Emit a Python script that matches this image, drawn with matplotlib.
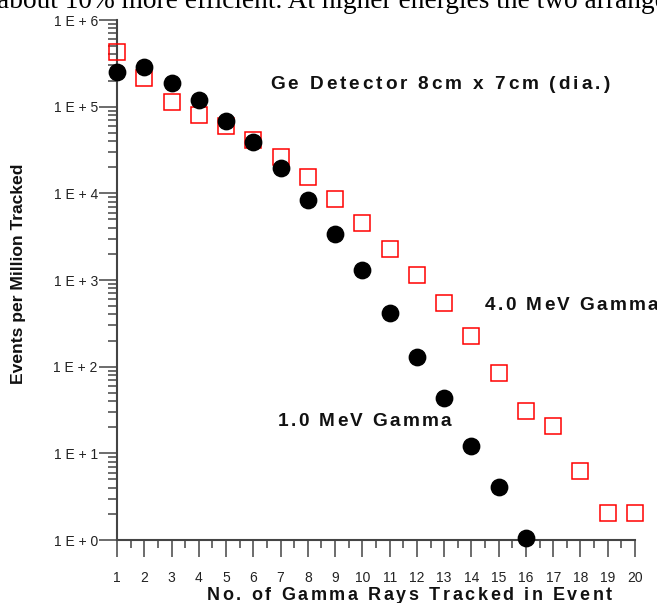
import numpy as np
import matplotlib
matplotlib.use('Agg')
import matplotlib.pyplot as plt
from matplotlib import font_manager
from matplotlib.ft2font import FT2Font
from matplotlib.ticker import FixedLocator, MultipleLocator, LogLocator, FuncFormatter, NullFormatter

# ---------------------------------------------------------------------------
# Data
# ---------------------------------------------------------------------------
n_tracked = np.arange(1, 21)
ev_1mev = [2.53e5, 2.89e5, 1.86e5, 1.19e5, 6.9e4, 3.88e4, 1.95e4, 8.4e3,
           3.4e3, 1.3e3, 420, 128, 44, 12.2, 4.1, 1.05]
ev_4mev = [4.33e5, 2.12e5, 1.13e5, 8.07e4, 5.98e4, 4.16e4, 2.62e4, 1.56e4,
           8.6e3, 4.6e3, 2.28e3, 1.14e3, 550, 226, 84, 30.5, 20.8, 6.25,
           2.05, 2.05]
x_ticks = list(range(1, 21))
y_decades = [0, 1, 2, 3, 4, 5, 6]

W, H, DPI = 657, 603, 100
SANS = 'Liberation Sans'
AX_COL = '#444444'


def spaced_text(fig, x_px, y_px, s, size, spacing, weight='bold', color='#111111'):
    """Draw s letter by letter from x_px (left) on baseline y_px (pixels from top)."""
    path = font_manager.findfont(font_manager.FontProperties(family=SANS, weight=weight))
    font = FT2Font(path)
    font.set_size(size, DPI)
    x = x_px
    for c in s:
        if c != ' ':
            fig.text(x / W, 1 - y_px / H, c, fontsize=size, fontweight=weight,
                     family=SANS, color=color, ha='left', va='baseline')
        x += font.load_char(ord(c)).linearHoriAdvance / 65536 + spacing


fig = plt.figure(figsize=(W / DPI, H / DPI), dpi=DPI)
ax = fig.add_axes([117 / W, 1 - 540 / H, (635 - 117) / W, (540 - 20) / H])

ax.plot(n_tracked[:len(ev_4mev)], ev_4mev, linestyle='none', marker='s', ms=11.5,
        mfc='none', mec='#ff0000', mew=1.1, clip_on=False, zorder=3)
ax.plot(n_tracked[:len(ev_1mev)], ev_1mev, linestyle='none', marker='o', ms=11.8,
        mfc='black', mec='black', clip_on=False, zorder=4)

ax.set_yscale('log')
ax.set_xlim(1, 20)
ax.set_ylim(1, 1e6)

for side in ('top', 'right'):
    ax.spines[side].set_visible(False)
for side in ('left', 'bottom'):
    ax.spines[side].set_color(AX_COL)
    ax.spines[side].set_linewidth(1.5)

ax.xaxis.set_major_locator(FixedLocator(x_ticks))
ax.xaxis.set_minor_locator(MultipleLocator(0.5))
ax.yaxis.set_major_locator(FixedLocator([10.0 ** d for d in y_decades]))
ax.yaxis.set_minor_locator(LogLocator(base=10, subs=np.arange(2, 10), numticks=20))
ax.yaxis.set_minor_formatter(NullFormatter())
ax.yaxis.set_major_formatter(FuncFormatter(lambda v, p: '1 E + %d' % round(np.log10(v))))

ax.tick_params(axis='x', which='major', length=12.2, width=1.1, color=AX_COL,
               pad=10, labelsize=10, labelcolor='#222222')
ax.tick_params(axis='x', which='minor', length=5.8, width=1.1, color=AX_COL)
ax.tick_params(axis='y', which='major', length=13.3, width=1.1, color=AX_COL,
               pad=0.5, labelsize=10, labelcolor='#222222')
ax.tick_params(axis='y', which='minor', length=6.5, width=1.1, color=AX_COL)
for lab in ax.get_xticklabels() + ax.get_yticklabels():
    lab.set_family(SANS)

# annotations
spaced_text(fig, 270, 89, 'Ge Detector 8cm x 7cm (dia.)', 13.7, 2.9)
spaced_text(fig, 485, 310.5, '4.0 MeV Gamma', 13.7, 2.3)
spaced_text(fig, 278, 425.5, '1.0 MeV Gamma', 13.7, 2.3)
spaced_text(fig, 207, 600.5, 'No. of Gamma Rays Tracked in Event', 13.0, 2.6)
fig.text(18.5 / W, 1 - 274 / H, 'Events per Million Tracked', rotation=90,
         fontsize=12.6, fontweight='bold', family=SANS, color='#111111',
         ha='center', va='center')

# clipped line of the surrounding document text
fig.text(-3 / W, 1 - 7.5 / H,
         'about 10% more efficient. At higher energies the two arrangements',
         fontsize=19.7, family='Liberation Serif', color='black',
         ha='left', va='baseline')

fig.savefig('out.png', dpi=DPI)
